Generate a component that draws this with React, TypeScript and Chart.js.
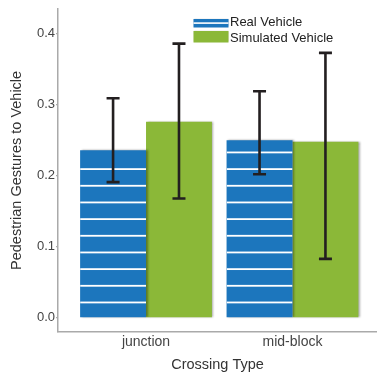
import React, { useEffect, useRef } from "react";
import { Chart, registerables } from "chart.js";

Chart.register(...registerables);

const categories = ["junction", "mid-block"];
const seriesNames = ["Real Vehicle", "Simulated Vehicle"];
const realValues = [0.236, 0.25];
const realLow = [0.191, 0.202];
const realHigh = [0.309, 0.319];
const simValues = [0.276, 0.248];
const simLow = [0.168, 0.083];
const simHigh = [0.386, 0.373];
const yTicks = [0, 0.1, 0.2, 0.3, 0.4];

const BLUE = "#1c76bd";
const GREEN = "#8bb838";
const FONT = "'Liberation Sans', Arial, sans-serif";

export default function App() {
  const ref = useRef<HTMLCanvasElement | null>(null);

  useEffect(() => {
    document.body.style.margin = "0";
    const canvas = ref.current;
    if (!canvas) return;

    const lows = [realLow, simLow];
    const highs = [realHigh, simHigh];

    const shadowPlugin = {
      id: "barShadow",
      beforeDatasetDraw(chart: any) {
        const ctx = chart.ctx;
        ctx.save();
        ctx.shadowColor = "rgba(0,0,0,0.35)";
        ctx.shadowBlur = 2;
        ctx.shadowOffsetX = 1.5;
        ctx.shadowOffsetY = 0;
      },
      afterDatasetDraw(chart: any, args: any) {
        const ctx = chart.ctx;
        ctx.restore();
        if (args.index !== 0) return;
        const meta = chart.getDatasetMeta(0);
        const period = 16.67;
        const phase = 1.5;
        meta.data.forEach((el: any) => {
          const { x, y, base, width } = el.getProps(["x", "y", "base", "width"], true);
          const left = x - width / 2;
          const top = Math.min(y, base);
          const bottom = Math.max(y, base);
          ctx.save();
          ctx.beginPath();
          ctx.rect(left, top, width, bottom - top);
          ctx.clip();
          ctx.fillStyle = "#ffffff";
          const start = Math.floor((top - phase) / period) * period + phase;
          for (let yy = start; yy < bottom; yy += period) {
            if (yy < top + 4) continue;
            ctx.fillRect(left, yy, width, 1.8);
          }
          ctx.restore();
        });
      },
      afterDatasetsDraw(chart: any) {
        const ctx = chart.ctx;
        const yScale = chart.scales.y;
        ctx.save();
        ctx.strokeStyle = "#231f20";
        ctx.lineWidth = 2.6;
        ctx.lineCap = "butt";
        chart.data.datasets.forEach((_: any, di: number) => {
          const meta = chart.getDatasetMeta(di);
          meta.data.forEach((el: any, j: number) => {
            const x = el.x;
            const yl = yScale.getPixelForValue(lows[di][j]);
            const yh = yScale.getPixelForValue(highs[di][j]);
            const cap = 6.5;
            ctx.beginPath();
            ctx.moveTo(x, yl);
            ctx.lineTo(x, yh);
            ctx.moveTo(x - cap, yh);
            ctx.lineTo(x + cap, yh);
            ctx.moveTo(x - cap, yl);
            ctx.lineTo(x + cap, yl);
            ctx.stroke();
          });
        });
        ctx.restore();

        // legend
        const legendX = 193.5;
        const boxW = 35;
        const rows = [
          { top: 19, h: 8.5, textY: 22.5 },
          { top: 31, h: 11.5, textY: 38 },
        ];
        ctx.save();
        chart.data.datasets.forEach((ds: any, di: number) => {
          const r = rows[di];
          ctx.save();
          ctx.shadowColor = "rgba(0,0,0,0.3)";
          ctx.shadowBlur = 1.5;
          ctx.shadowOffsetY = -0.5;
          ctx.fillStyle = ds.backgroundColor;
          ctx.fillRect(legendX, r.top, boxW, r.h);
          ctx.restore();
          if (di === 0) {
            ctx.fillStyle = "#ffffff";
            ctx.fillRect(legendX, r.top + 3.3, boxW, 1.6);
          }
          ctx.fillStyle = "#222222";
          ctx.font = `13px ${FONT}`;
          ctx.textBaseline = "middle";
          ctx.textAlign = "left";
          ctx.fillText(ds.label, legendX + boxW + 1.5, r.textY);
        });
        ctx.restore();
      },
    };

    const chart = new Chart(canvas, {
      type: "bar",
      data: {
        datasets: [
          {
            label: seriesNames[0],
            data: categories.map((_, i) => ({ x: i + 1, y: realValues[i] })),
            backgroundColor: BLUE,
            borderWidth: 0,
            categoryPercentage: 0.9,
            barPercentage: 1,
          },
          {
            label: seriesNames[1],
            data: categories.map((_, i) => ({ x: i + 1, y: simValues[i] })),
            backgroundColor: GREEN,
            borderWidth: 0,
            categoryPercentage: 0.9,
            barPercentage: 1,
          },
        ],
      },
      options: {
        animation: false,
        responsive: true,
        maintainAspectRatio: false,
        layout: { padding: { top: 8, right: 0, left: 0, bottom: 0 } },
        plugins: {
          legend: { display: false },
          tooltip: { enabled: false },
        },
        scales: {
          x: {
            type: "linear",
            min: 0.399,
            max: 2.577,
            offset: false,
            grid: { display: false, drawTicks: false },
            border: { display: true, color: "#aaaaaa", width: 1.5 },
            afterBuildTicks: (axis: any) => {
              axis.ticks = categories.map((_, i) => ({ value: i + 1 }));
            },
            afterFit: (scale: any) => {
              scale.height = 43;
            },
            ticks: {
              autoSkip: false,
              maxRotation: 0,
              padding: 2,
              color: "#444444",
              font: { family: FONT, size: 14 },
              callback: (v: any) => categories[Math.round(Number(v)) - 1] ?? "",
            },
            title: {
              display: true,
              text: "Crossing Type",
              color: "#333333",
              font: { family: FONT, size: 14.5 },
              padding: { top: 0, bottom: 1.3 },
            },
          },
          y: {
            type: "linear",
            min: -0.02,
            max: 0.435,
            grid: {
              display: true,
              drawOnChartArea: false,
              drawTicks: true,
              tickLength: 2,
              color: "#aaaaaa",
              lineWidth: 1.2,
            },
            border: { display: true, color: "#aaaaaa", width: 1.5 },
            afterBuildTicks: (axis: any) => {
              axis.ticks = yTicks.map((v) => ({ value: v }));
            },
            afterFit: (scale: any) => {
              scale.width = 58;
            },
            ticks: {
              padding: 1,
              color: "#444444",
              font: { family: FONT, size: 13 },
              callback: (v: any) => Number(v).toFixed(1),
            },
            title: {
              display: true,
              text: "Pedestrian Gestures to Vehicle",
              color: "#333333",
              font: { family: FONT, size: 14.5 },
              padding: { top: 8, bottom: 0 },
            },
          },
        },
      },
      plugins: [shadowPlugin],
    } as any);

    return () => chart.destroy();
  }, []);

  return (
    <div style={{ width: 377, height: 375, position: "relative" }}>
      <canvas ref={ref} />
    </div>
  );
}
